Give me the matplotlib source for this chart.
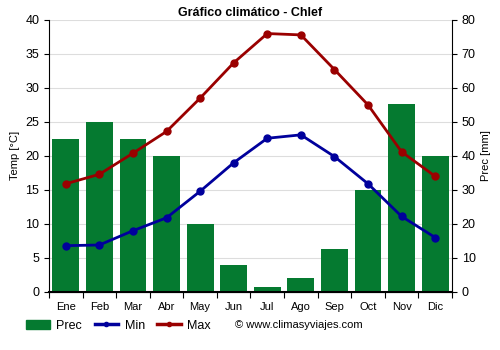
import numpy as np
import matplotlib.pyplot as plt
from matplotlib.patches import Patch
from matplotlib.lines import Line2D

plt.rcParams['font.family'] = ['Liberation Sans', 'DejaVu Sans']

months = ['Ene', 'Feb', 'Mar', 'Abr', 'May', 'Jun', 'Jul', 'Ago', 'Sep', 'Oct', 'Nov', 'Dic']
prec = [45, 50, 45, 40, 20, 7.8, 1.5, 4.2, 12.7, 30, 55.3, 40]
t_min = [6.8, 6.9, 9.0, 10.9, 14.8, 19.0, 22.6, 23.1, 19.9, 15.9, 11.1, 8.0]
t_max = [15.9, 17.3, 20.4, 23.6, 28.5, 33.7, 38.0, 37.8, 32.7, 27.5, 20.6, 17.0]

green = '#057a30'
blue = '#00009c'
red = '#9a0000'

fig = plt.figure(figsize=(5, 3.5), dpi=100)
ax = fig.add_axes([0.098, 0.166, 0.806, 0.777])
ax2 = ax.twinx()

x = np.arange(12)
ax2.bar(x, prec, width=0.8, color=green, zorder=1)
ax2.set_ylim(0, 80)
ax2.set_yticks(np.arange(0, 81, 10))

ax.set_zorder(ax2.get_zorder() + 1)
ax.patch.set_visible(False)
ax.plot(x, t_min, color=blue, lw=2, marker='o', ms=5)
ax.plot(x, t_max, color=red, lw=2, marker='o', ms=5)
ax.set_ylim(0, 40)
ax.set_yticks(np.arange(0, 41, 5))
ax.set_xlim(-0.5, 11.5)
ax.set_xticks(np.arange(-0.5, 12, 1))
ax.set_xticklabels([])
ax.set_xticks(x, minor=True)
ax.set_xticklabels(months, minor=True)
ax.tick_params(axis='x', which='minor', length=0, labelsize=8, pad=7)
ax.tick_params(axis='x', which='major', length=4)
ax.tick_params(axis='y', labelsize=9)
ax2.tick_params(axis='y', labelsize=9)

# grid drawn on the bar axes so it sits behind bars
ax2.set_xticks(np.arange(-0.5, 12, 1))
ax2.grid(True, color='#dddddd', lw=0.8, zorder=0)
ax2.set_axisbelow(True)
ax.spines['top'].set_visible(False)
ax2.spines['top'].set_visible(False)
ax.spines['right'].set_visible(False)
ax2.spines['left'].set_visible(False)
ax.spines['bottom'].set_linewidth(1.5)

ax.set_ylabel('Temp [°C]', fontsize=8)
ax2.set_ylabel('Prec [mm]', fontsize=8)
ax.set_title('Gráfico climático - Chlef', fontsize=9, fontweight='bold', pad=3)

handles = [Patch(color=green, label='Prec'),
           Line2D([0], [0], color=blue, lw=2.5, marker='o', ms=3, label='Min'),
           Line2D([0], [0], color=red, lw=2.5, marker='o', ms=3, label='Max')]
fig.legend(handles=handles, loc='lower left', bbox_to_anchor=(0.03, 0.02), ncol=3,
           frameon=False, fontsize=9, handlelength=1.9, handletextpad=0.5,
           columnspacing=1.0)
fig.text(0.47, 0.07, '© www.climasyviajes.com', fontsize=8, va='center')

fig.savefig('out.png', dpi=100)
